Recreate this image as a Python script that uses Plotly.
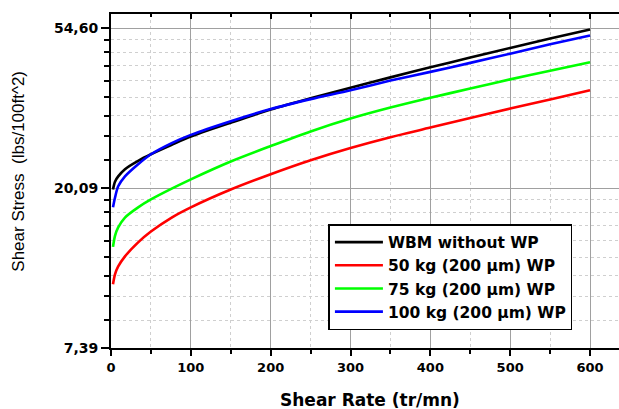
import numpy as np
import plotly.graph_objects as go

# ---- data ----
shear_rate = [2.5, 5, 9, 17.5, 34, 50, 76, 100, 150, 200, 250, 300, 350, 400, 450, 500, 550, 600]

wbm_without_wp = [19.9, 20.9, 21.6, 22.6, 23.8, 24.8, 26.3, 27.7, 30.2, 32.8, 35.2, 37.6, 40.1, 42.7, 45.4, 48.2, 51.1, 54.1]
wp_50kg = [11.0, 11.7, 12.3, 13.1, 14.3, 15.3, 16.7, 17.8, 19.9, 21.9, 23.9, 25.8, 27.6, 29.3, 31.1, 33.0, 34.9, 37.0]
wp_75kg = [13.9, 14.9, 15.7, 16.7, 17.8, 18.7, 20.0, 21.2, 23.7, 26.1, 28.6, 31.0, 33.2, 35.3, 37.4, 39.6, 41.8, 44.1]
wp_100kg = [17.8, 18.9, 20.3, 21.6, 23.3, 24.8, 26.6, 28.0, 30.5, 32.9, 35.0, 37.0, 39.3, 41.5, 43.9, 46.5, 49.3, 52.1]

series_names = ["WBM without WP", "50 kg (200 µm) WP", "75 kg (200 µm) WP", "100 kg (200 µm) WP"]
series_values = [wbm_without_wp, wp_50kg, wp_75kg, wp_100kg]
series_colors = ["#000000", "#ff0000", "#00ff00", "#0000ff"]

y_tick_values = [float(np.exp(2)), float(np.exp(3)), float(np.exp(4))]
y_tick_labels = ["7,39", "20,09", "54,60"]

# minor ticks: 8 linear steps between consecutive major ticks
y_minor_values = []
for a, b in zip(y_tick_values[:-1], y_tick_values[1:]):
    y_minor_values += list(np.linspace(a, b, 10)[1:-1])

fig = go.Figure()
for name, vals, col in zip(series_names, series_values, series_colors):
    fig.add_trace(go.Scatter(
        x=shear_rate, y=vals, name=name, mode="lines",
        line=dict(color=col, width=2.6, shape="spline", smoothing=0.8),
    ))
# empty trace to activate the top mirrored axis
fig.add_trace(go.Scatter(x=[], y=[], xaxis="x2", showlegend=False, hoverinfo="skip"))

tickfont_x = dict(family="DejaVu Sans", size=13, color="black", weight="bold")
tickfont_y = dict(family="DejaVu Sans", size=14, color="black", weight="bold")

x_range = [0, 636.3]
y_range = [2 / np.log(10), 4.0875 / np.log(10)]

fig.update_layout(
    width=619, height=409,
    margin=dict(l=111, r=0, t=14, b=61),
    paper_bgcolor="white", plot_bgcolor="white",
    showlegend=True,
    legend=dict(
        x=0.428, y=0.371, xanchor="left", yanchor="top",
        bgcolor="white", bordercolor="black", borderwidth=1.5,
        font=dict(family="DejaVu Sans", size=15.5, color="black", weight="bold"),
        itemwidth=48, tracegroupgap=0,
    ),
    xaxis=dict(
        range=x_range, tickmode="linear", tick0=0, dtick=100,
        showgrid=True, gridcolor="#a0a0a0", gridwidth=1,
        showline=True, linecolor="black", linewidth=2,
        ticks="outside", ticklen=6, tickwidth=1.5, tickcolor="black",
        tickfont=tickfont_x, zeroline=False,
        minor=dict(tickmode="linear", tick0=0, dtick=50, showgrid=True,
                   gridcolor="#cfcfcf", griddash="dot", gridwidth=1,
                   ticks="outside", ticklen=4, tickwidth=1.5, tickcolor="black"),
    ),
    xaxis2=dict(
        range=x_range, overlaying="x", side="top", tickmode="linear", tick0=0, dtick=100,
        showgrid=False, showticklabels=False, zeroline=False,
        showline=True, linecolor="black", linewidth=2,
        ticks="inside", ticklen=5, tickwidth=1.5, tickcolor="black",
        minor=dict(tickmode="linear", tick0=0, dtick=50, ticks="inside", ticklen=3,
                   tickwidth=1.5, tickcolor="black", showgrid=False),
    ),
    yaxis=dict(
        type="log", range=y_range,
        tickmode="array", tickvals=y_tick_values, ticktext=y_tick_labels,
        showgrid=True, gridcolor="#a0a0a0", gridwidth=1,
        showline=True, linecolor="black", linewidth=2,
        ticks="outside", ticklen=8, tickwidth=1.5, tickcolor="black",
        tickfont=tickfont_y, zeroline=False,
        minor=dict(tickmode="array", tickvals=y_minor_values, showgrid=True,
                   gridcolor="#cfcfcf", griddash="dot", gridwidth=1,
                   ticks="outside", ticklen=5, tickwidth=1.5, tickcolor="black"),
    ),
    annotations=[
        dict(text="Shear Rate (tr/mn)", xref="paper", yref="paper",
             x=0.51, y=-0.157, xanchor="center", yanchor="middle", showarrow=False,
             font=dict(family="DejaVu Sans", size=17, color="black", weight="bold")),
        dict(text="Shear Stress\u00a0\u00a0(lbs/100ft^2)", xref="paper", yref="paper",
             x=-0.181, y=0.528, xanchor="center", yanchor="middle", showarrow=False,
             textangle=-90,
             font=dict(family="Arial, Liberation Sans", size=17, color="black")),
    ],
)

fig.write_html("out.html", config={"displayModeBar": False},
               post_script="document.body.style.margin='0';")
